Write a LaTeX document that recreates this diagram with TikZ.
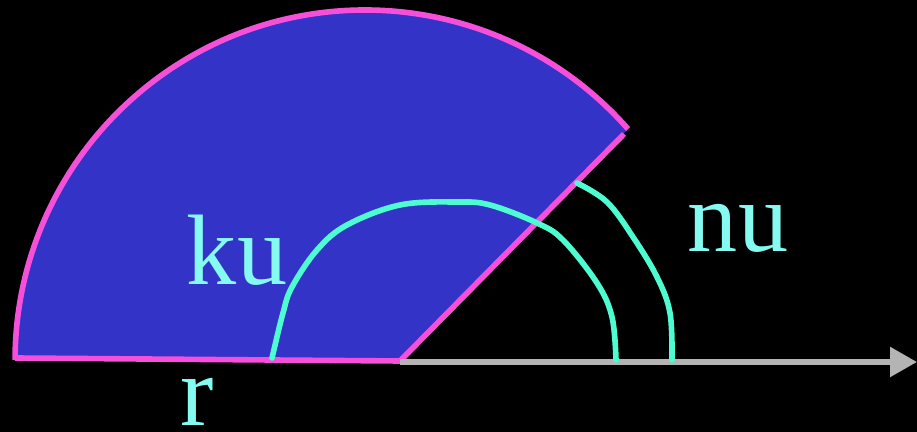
\documentclass[tikz,border=0pt]{standalone}
\usepackage{fontspec}
\setmainfont{Liberation Serif}
\usetikzlibrary{arrows.meta}
\definecolor{secfill}{HTML}{3333C8}
\definecolor{secedge}{HTML}{F64FDA}
\definecolor{bowline}{HTML}{4DFCD0}
\definecolor{labeltext}{HTML}{85FAF0}
\definecolor{axisgray}{HTML}{B4B4B4}

\begin{document}
\begin{tikzpicture}[x=0.02cm, y=0.02cm,
    edge/.style={draw=secedge, line width=3.2pt},
    bow/.style={draw=bowline, line width=3.2pt, line cap=round},
    lbl/.style={anchor=base, inner sep=0pt, text=labeltext, font=\fontsize{57}{60}\selectfont}]
  \fill[black] (0,0) rectangle (917,432);
  \useasboundingbox (0,0) rectangle (917,432);
  % sector
  \coordinate (apex) at (400,71);
  \coordinate (tip) at (628,303);
  \coordinate (rim) at (624,298);
  \coordinate (left) at (15,74);
  \fill[secfill] (apex) -- (tip) arc[start angle=41.3, end angle=180, radius=350] -- (left) -- cycle;
  \draw[edge] (tip) arc[start angle=41.3, end angle=180, radius=350];
  \draw[edge] (left) -- (apex) -- (rim);
  % axis
  \coordinate (axend) at (917,70);
  \draw[axisgray, line width=3.2pt, -{Triangle[length=0.54cm, width=0.58cm]}] (apex) ++(0,-1) -- (axend);
  % angle bows
  \draw[bow] plot[smooth, tension=0.6] coordinates {(272,74) (283,119) (292,145) (317,182) (347,207) (400,227) (457,230) (490,227) (537,209) (563,192) (597,149) (612,115) (616,72)};
  \draw[bow] plot[smooth, tension=0.6] coordinates {(577,249) (607,230) (633,195) (657,155) (670,119) (672,72)};
  % labels
  \node[lbl] (ku) at (237,147) {ku};
  \node[lbl] (nu) at (738,180) {nu};
  \node[lbl] (r) at (197,6) {r};
\end{tikzpicture}
\end{document}
